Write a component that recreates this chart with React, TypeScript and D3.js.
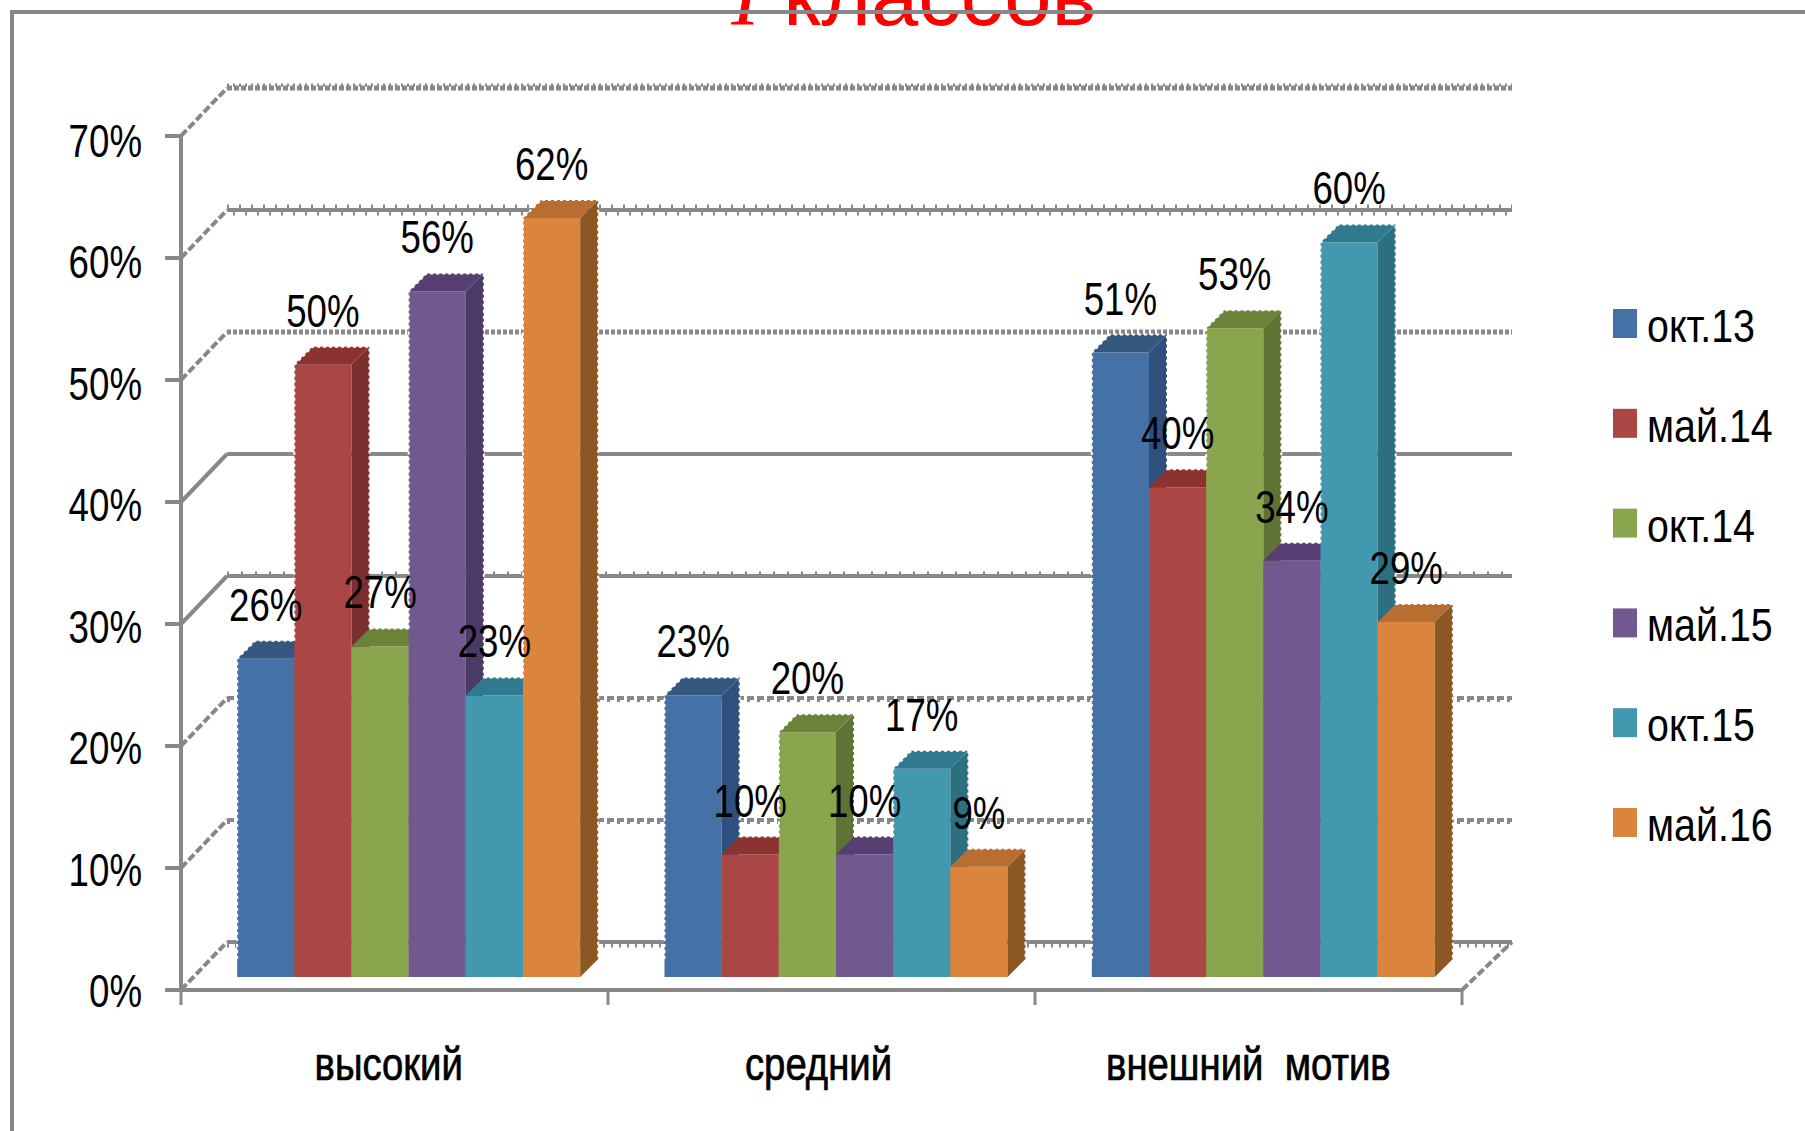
import React from "react";
import * as d3 from "d3";

const categories = ["высокий", "средний", "внешний  мотив"];
const seriesNames = ["окт.13", "май.14", "окт.14", "май.15", "окт.15", "май.16"];
const okt13 = [26, 23, 51];
const may14 = [50, 10, 40];
const okt14 = [27, 20, 53];
const may15 = [56, 10, 34];
const okt15 = [23, 17, 60];
const may16 = [62, 9, 29];
const seriesValues = [okt13, may14, okt14, may15, okt15, may16];
const yTicks = [0, 10, 20, 30, 40, 50, 60, 70];

const frontColors = ["#4471a6", "#aa4644", "#89a54e", "#71588f", "#4198af", "#db843d"];
const topColors = ["#34577f", "#8a3331", "#6b8238", "#573f74", "#2f7a8e", "#b76e30"];
const sideColors = ["#2f4f7c", "#7a2f2e", "#5f7434", "#4b3a66", "#2c6f80", "#8d5724"];

const FONT = "'Liberation Sans', sans-serif";
const GREY = "#888888";
const DEPTH_X = 46;
const DEPTH_Y = 48;
const BAR_DX = 18;
const BAR_DY = 18;
const NARROW = "scale(0.815,1.04)";

type Stroke = { dy: number; w: number; dash?: string; off?: number };
const gridStyles: Record<number, Stroke[]> = {
  70: [{ dy: 0, w: 5, dash: "5 2" }, { dy: -3, w: 3, dash: "2 4" }],
  60: [{ dy: 0, w: 4 }, { dy: -3.5, w: 4, dash: "2 10" }, { dy: 3.5, w: 4, dash: "2 10", off: 6 }],
  50: [{ dy: 0, w: 5, dash: "4 2" }],
  40: [{ dy: 0, w: 4 }],
  30: [{ dy: 0, w: 4 }, { dy: -3, w: 3, dash: "2 12" }],
  20: [{ dy: 0, w: 4, dash: "7 3" }, { dy: 3, w: 2, dash: "3 7" }],
  10: [{ dy: 0, w: 4, dash: "7 3" }, { dy: 3, w: 2, dash: "3 7" }],
  0: [{ dy: 0, w: 4 }, { dy: 3.5, w: 4, dash: "2 6" }],
};

export default function App() {
  const axisY = d3.scaleLinear().domain([0, 70]).range([990, 136]);
  const labelY = d3.scaleLinear().domain([0, 70]).range([1007, 157]);
  const barY = d3.scaleLinear().domain([0, 70]).range([977, 120]);
  const axisX = d3.scaleLinear().domain([0, 3]).range([181, 1462]);
  const groupX = d3.scaleBand<string>().domain(categories).range([195, 1477]).padding(0);
  const innerX = d3.scaleBand<string>().domain(seriesNames).range([-171.5, 171.5]).padding(0);
  const legendY = d3.scalePoint<string>().domain(seriesNames).range([323, 822]);
  const barW = innerX.bandwidth();
  const line = d3.line();

  return (
    <svg
      width={1805}
      height={1131}
      viewBox="0 0 1805 1131"
      style={{ position: "absolute", left: 0, top: 0, display: "block", background: "#fff" }}
    >
      <text x={914} y={25} textAnchor="middle" fill="#ff0000" fontFamily={FONT} fontSize={85}>
        <tspan fontFamily="'Liberation Serif', serif" fontStyle="italic">I</tspan> классов
      </text>
      <path d={line([[12, 1131], [12, 12], [1805, 12]]) ?? ""} fill="none" stroke={GREY} strokeWidth={4} />

      {yTicks.map((v) => {
        const y = axisY(v);
        const by = y - DEPTH_Y;
        return (
          <g key={v}>
            <path d={line([[165, y], [181, y]]) ?? ""} stroke={GREY} strokeWidth={4} />
            <path d={line([[181, y], [181 + DEPTH_X, by]]) ?? ""} stroke={GREY} strokeWidth={4} strokeDasharray={v === 40 || v === 30 ? undefined : "8 3"} />
            {gridStyles[v].map((s, i) => (
              <path
                key={i}
                d={line([[181 + DEPTH_X, by + s.dy], [1512, by + s.dy]]) ?? ""}
                stroke={GREY}
                strokeWidth={s.w}
                strokeDasharray={s.dash}
                strokeDashoffset={s.off}
                fill="none"
              />
            ))}
            <text transform={`translate(142,${labelY(v)}) ${NARROW}`} textAnchor="end" fontFamily={FONT} fontSize={45} fill="#000">
              {v}%
            </text>
          </g>
        );
      })}

      <path d={line([[181, 136], [181, 990]]) ?? ""} stroke={GREY} strokeWidth={4} />
      <path d={line([[181, 990], [1462, 990]]) ?? ""} stroke={GREY} strokeWidth={4} />
      <path d={line([[1462, 990], [1462 + 50, 990 - 48]]) ?? ""} stroke={GREY} strokeWidth={4} strokeDasharray="8 3" />
      {d3.range(0, 4).map((i) => (
        <path key={i} d={line([[axisX(i), 990], [axisX(i), 1005]]) ?? ""} stroke={GREY} strokeWidth={3} />
      ))}

      {categories.map((cat, c) => {
        const cx = (groupX(cat) ?? 0) + groupX.bandwidth() / 2;
        return (
          <g key={cat}>
            {seriesNames.map((name, s) => {
              const x0 = cx + (innerX(name) ?? 0);
              const x1 = x0 + barW;
              const y0 = barY(0);
              const yt = barY(seriesValues[s][c]);
              const prevTop = s > 0 ? barY(seriesValues[s - 1][c]) : y0;
              const front: [number, number][] = [[x0, y0], [x0, yt], [x1, yt], [x1, y0]];
              const top: [number, number][] = [[x0, yt], [x0 + BAR_DX, yt - BAR_DY], [x1 + BAR_DX, yt - BAR_DY], [x1, yt]];
              const side: [number, number][] = [[x1, yt], [x1 + BAR_DX, yt - BAR_DY], [x1 + BAR_DX, y0 - BAR_DY], [x1, y0]];
              const leftEdge: [number, number][] = prevTop > yt ? [[x0, prevTop - BAR_DY], [x0, yt]] : [];
              const outline: [number, number][] = [...leftEdge, [x0 + BAR_DX, yt - BAR_DY], [x1 + BAR_DX, yt - BAR_DY], [x1 + BAR_DX, y0 - BAR_DY]];
              return (
                <g key={name}>
                  <path d={(line(front) ?? "") + "Z"} fill={frontColors[s]} />
                  <path d={(line(top) ?? "") + "Z"} fill={topColors[s]} />
                  <path d={(line(side) ?? "") + "Z"} fill={sideColors[s]} />
                  <path d={line(outline) ?? ""} fill="none" stroke="#fff" strokeWidth={2} strokeDasharray="3 3" />
                </g>
              );
            })}
          </g>
        );
      })}

      {categories.map((cat, c) => {
        const cx = (groupX(cat) ?? 0) + groupX.bandwidth() / 2;
        return (
          <g key={cat}>
            {seriesNames.map((name, s) => (
              <text
                key={name}
                transform={`translate(${cx + (innerX(name) ?? 0) + barW / 2},${barY(seriesValues[s][c]) - 38}) ${NARROW}`}
                textAnchor="middle"
                fontFamily={FONT}
                fontSize={45}
                fill="#000"
              >
                {seriesValues[s][c]}%
              </text>
            ))}
            <text
              transform={`translate(${cx - 20 + c * 2.5},1080) scale(0.87,1.05)`}
              textAnchor="middle"
              fontFamily={FONT}
              fontSize={44}
              fill="#000"
              stroke="#000"
              strokeWidth={0.7}
              style={{ whiteSpace: "pre" }}
            >
              {cat}
            </text>
          </g>
        );
      })}

      {seriesNames.map((name, s) => (
        <g key={name}>
          <rect x={1613} y={(legendY(name) ?? 0) - 14} width={24} height={29} fill={frontColors[s]} />
          <text transform={`translate(1647,${(legendY(name) ?? 0) + 19}) scale(0.875,1.04)`} fontFamily={FONT} fontSize={45} fill="#000">
            {name}
          </text>
        </g>
      ))}
    </svg>
  );
}
